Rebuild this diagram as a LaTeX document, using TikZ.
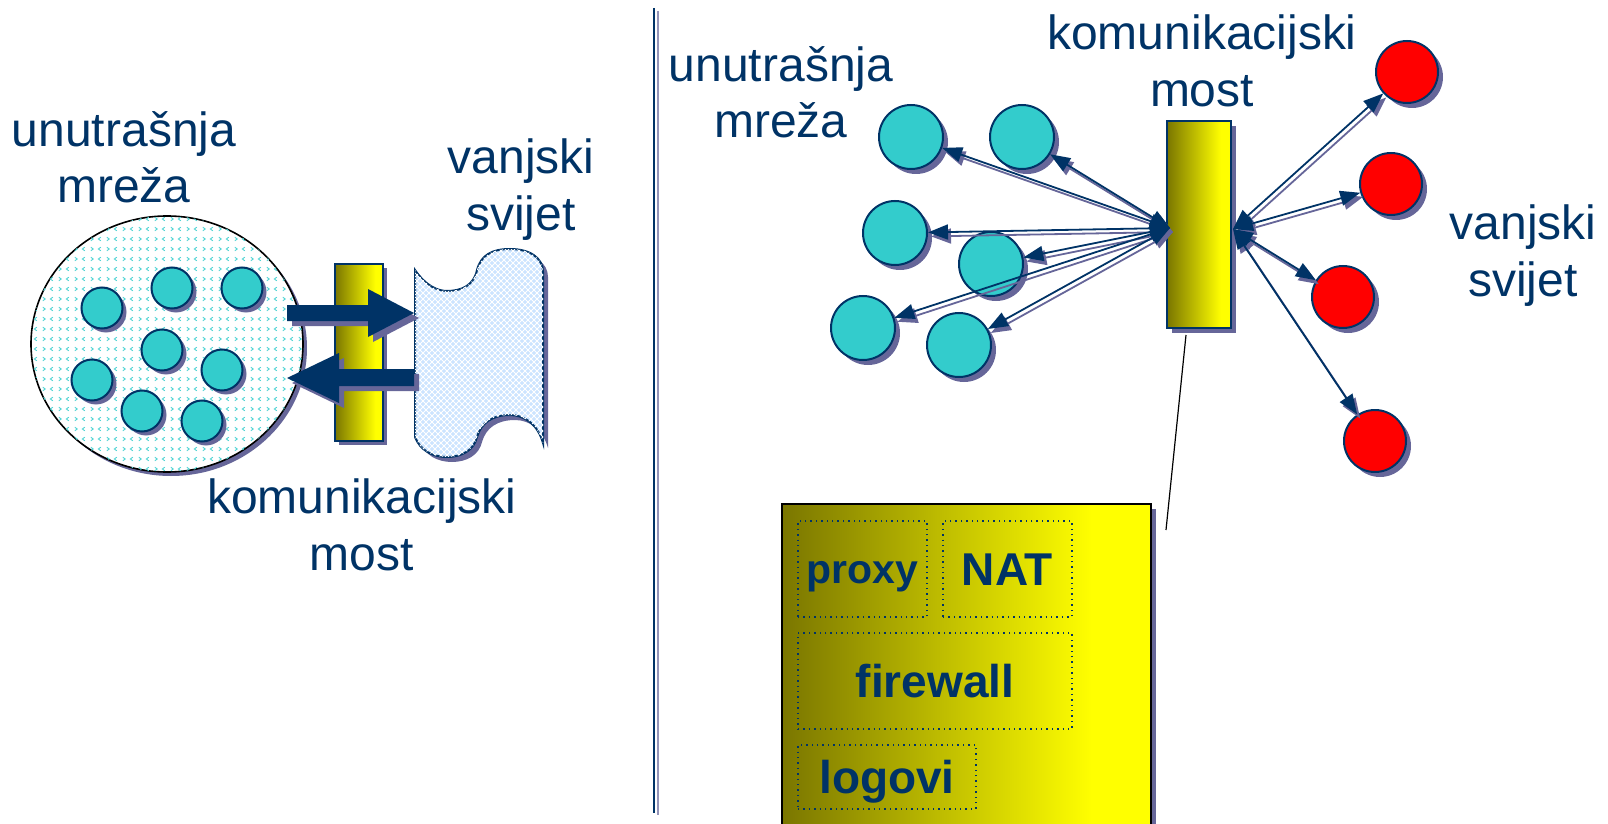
\documentclass[tikz,border=0pt]{standalone}
\usepackage{fontspec}
\setmainfont{Liberation Sans}
\usetikzlibrary{shadows,arrows.meta,patterns,shapes.geometric}
\definecolor{navy}{RGB}{0,51,102}
\definecolor{shd}{RGB}{102,102,153}
\definecolor{cyanc}{RGB}{51,204,204}
\definecolor{oliv}{RGB}{122,118,0}
\definecolor{skyb}{RGB}{204,228,255}
\pgfdeclarehorizontalshading{olyel}{100bp}{color(0bp)=(oliv); color(25bp)=(oliv); color(67bp)=(yellow); color(100bp)=(yellow)}
\pgfdeclarepatternformonly{chev}{\pgfpoint{-0.5pt}{-0.5pt}}{\pgfpoint{8.5pt}{5.5pt}}{\pgfpoint{8pt}{5pt}}{%
 \pgfsetlinewidth{0.45pt}%
 \pgfpathmoveto{\pgfpoint{2.4pt}{3.4pt}}\pgfpathlineto{\pgfpoint{1.2pt}{2.5pt}}\pgfpathlineto{\pgfpoint{2.4pt}{1.6pt}}%
 \pgfpathmoveto{\pgfpoint{5.4pt}{3.4pt}}\pgfpathlineto{\pgfpoint{6.6pt}{2.5pt}}\pgfpathlineto{\pgfpoint{5.4pt}{1.6pt}}%
 \pgfusepath{stroke}}
\begin{document}
\begin{tikzpicture}[x=0.5pt,y=-0.5pt,
 shadowed/.style={drop shadow={shadow xshift=#1, shadow yshift=-#1, fill=shd, opacity=1}},
 dot/.style={circle, draw=navy, line width=1pt, fill=cyanc, inner sep=0pt, minimum size=20.5pt, shadowed=2pt},
 bigdot/.style={circle, draw=navy, line width=1pt, fill=cyanc, inner sep=0pt, minimum size=32pt, shadowed=2.5pt},
 reddot/.style={bigdot, fill=red, minimum size=31pt},
 lbl/.style={text=navy, font=\fontsize{24}{28}\selectfont, inner sep=0pt, anchor=base},
 barbox/.style={draw=navy, line width=1pt, shade, shading=olyel, inner sep=0pt},
 tag/.style={draw=navy, dotted, line width=0.7pt, inner sep=0pt, text=navy, font=\bfseries\fontsize{23}{27}\selectfont, text height=16.5pt, text depth=0pt},
 con/.style={draw=navy, line width=0.9pt, arrows={Triangle[length=10pt,width=7.5pt]-Triangle[length=10pt,width=7.5pt]}},
 conshd/.style={con, draw=shd, fill=shd, transform canvas={xshift=1.5pt, yshift=-2pt}},
 blockarrow/.style={fill=navy},
 blockshd/.style={fill=shd, transform canvas={xshift=2.5pt, yshift=-2.5pt}}
]
\useasboundingbox (0,0) rectangle (1608,824);

% divider
\coordinate (dt) at (654,8);
\coordinate (db) at (654,813);
\coordinate (st) at (658,11);
\coordinate (sb) at (658,815);
\draw[shd!70, line width=0.7pt] (st) -- (sb);
\draw[navy, line width=1.1pt] (dt) -- (db);

% ---------- left part ----------
\node[ellipse, draw=black, line width=0.8pt, fill=white, minimum width=136pt, minimum height=128pt, inner sep=0pt,
      shadowed=2pt, postaction={pattern=chev, pattern color=cyanc!85}] (inner) at (167,344) {};
\node[dot] (n1) at (102,308) {};
\node[dot] (n2) at (172,288) {};
\node[dot] (n3) at (242,288) {};
\node[dot] (n4) at (162,350) {};
\node[dot] (n5) at (222,370) {};
\node[dot] (n6) at (92,380) {};
\node[dot] (n7) at (142,411) {};
\node[dot] (n8) at (202,421) {};

\node[barbox, minimum width=24pt, minimum height=88.5pt, shadowed=2pt] (lbar) at (359,352.5) {};

\path[draw=navy, line width=1pt, fill=skyb, shadowed=2.5pt,
      postaction={pattern=north east lines, pattern color=white},
      postaction={pattern=north west lines, pattern color=white}]
  (415,270) .. controls (425,285) and (437,291) .. (447,291)
  .. controls (462,291) and (474,285) .. (477,270)
  .. controls (481,255) and (492,249) .. (510,249)
  .. controls (530,249) and (543,258) .. (543,272)
  -- (543,443)
  .. controls (538,425) and (525,415) .. (510,415)
  .. controls (492,415) and (481,423) .. (477,437)
  .. controls (474,450) and (462,457) .. (447,457)
  .. controls (432,457) and (420,450) .. (415,437) -- cycle;

% block arrows
\path[blockshd] (287,305) -- (368,305) -- (368,289) -- (414,313) -- (368,337) -- (368,321) -- (287,321) -- cycle;
\path[blockshd] (414,369) -- (339,369) -- (339,353) -- (287,378) -- (339,403) -- (339,386) -- (414,386) -- cycle;
\path[blockarrow] (287,305) -- (368,305) -- (368,289) -- (414,313) -- (368,337) -- (368,321) -- (287,321) -- cycle;
\path[blockarrow] (414,369) -- (339,369) -- (339,353) -- (287,378) -- (339,403) -- (339,386) -- (414,386) -- cycle;

% left labels
\node[lbl] (lin1) at (124,147) {unutrašnja};
\node[lbl] (lin2) at (124,203) {mreža};
\node[lbl] (lout1) at (521,174) {vanjski};
\node[lbl] (lout2) at (521,231) {svijet};
\node[lbl] (lbr1) at (362,513) {komunikacijski};
\node[lbl] (lbr2) at (362,570) {most};

% ---------- right part ----------
\node[lbl] (rin1) at (781,82) {unutrašnja};
\node[lbl] (rin2) at (781,138) {mreža};
\node[lbl] (rbr1) at (1202,50) {komunikacijski};
\node[lbl] (rbr2) at (1202,107) {most};
\node[lbl] (rout1) at (1523,240) {vanjski};
\node[lbl] (rout2) at (1523,296) {svijet};

\node[bigdot] (A) at (911,137) {};
\node[bigdot] (B) at (1022,137) {};
\node[bigdot] (C) at (895,233) {};
\node[bigdot] (D) at (991,264) {};
\node[bigdot] (E) at (863,328) {};
\node[bigdot] (F) at (959,345) {};

\node[reddot] (R1) at (1407,72) {};
\node[reddot] (R2) at (1391,184) {};
\node[reddot] (R3) at (1343,297) {};
\node[reddot] (R4) at (1375,441) {};

\node[barbox, minimum width=32pt, minimum height=103.5pt, shadowed=2.5pt] (bridge) at (1199,224.5) {};
\coordinate (bl) at (1170,228);
\coordinate (br) at (1233,229);

\foreach \t in {A,B,C,D,E,F} {\draw[conshd] (bl) -- (\t);}
\foreach \t in {R1,R2,R3,R4} {\draw[conshd] (br) -- (\t);}
\foreach \t in {A,B,C,D,E,F} {\draw[con] (bl) -- (\t);}
\foreach \t in {R1,R2,R3,R4} {\draw[con] (br) -- (\t);}

% callout
\coordinate (ca) at (1186,335);
\coordinate (cb) at (1166,530);
\draw[black, line width=0.6pt] (ca) -- (cb);

% detail box
\node[draw=black, line width=1pt, shade, shading=olyel, inner sep=0pt, minimum width=184.5pt, minimum height=166pt, shadowed=2.5pt] (box) at (966.5,670) {};
\node[tag, minimum width=64.5pt, minimum height=48pt, font=\bfseries\fontsize{20.5}{24}\selectfont, text height=14.7pt] (proxy) at (862.5,569) {proxy};
\node[tag, minimum width=64.5pt, minimum height=48pt] (nat) at (1007.5,569) {NAT};
\node[tag, minimum width=137pt, minimum height=48pt] (fw) at (935,681) {firewall};
\node[tag, minimum width=89pt, minimum height=32pt] (log) at (887,777) {logovi};
\end{tikzpicture}
\end{document}
